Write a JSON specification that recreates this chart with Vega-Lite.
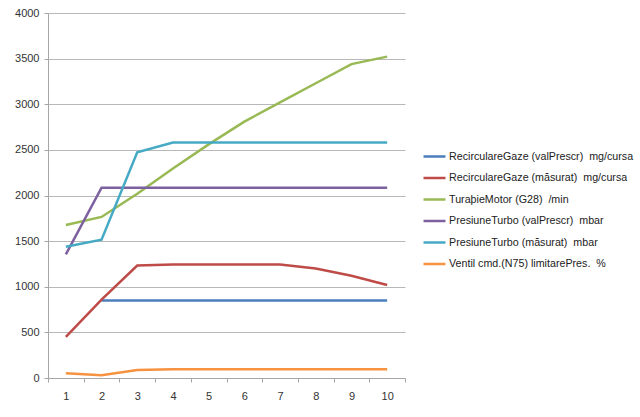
{
  "$schema": "https://vega.github.io/schema/vega-lite/v6.json",
  "width": 357,
  "height": 365,
  "autosize": {"type": "none"},
  "padding": {"left": 48, "top": 13, "right": 235, "bottom": 39},
  "background": "white",
  "config": {
    "view": {"stroke": null},
    "font": "Liberation Sans",
    "axis": {"labelFont": "Liberation Sans", "labelFontSize": 11, "labelColor": "#333333", "domainColor": "#a6a6a6", "tickColor": "#a6a6a6", "gridColor": "#b8b8b8", "tickSize": 4}
  },
  "data": {
    "values": [
      {"x": 2, "s": "RecirculareGaze (valPrescr)\u00a0 mg/cursa", "v": 850},
      {"x": 3, "s": "RecirculareGaze (valPrescr)\u00a0 mg/cursa", "v": 850},
      {"x": 4, "s": "RecirculareGaze (valPrescr)\u00a0 mg/cursa", "v": 850},
      {"x": 5, "s": "RecirculareGaze (valPrescr)\u00a0 mg/cursa", "v": 850},
      {"x": 6, "s": "RecirculareGaze (valPrescr)\u00a0 mg/cursa", "v": 850},
      {"x": 7, "s": "RecirculareGaze (valPrescr)\u00a0 mg/cursa", "v": 850},
      {"x": 8, "s": "RecirculareGaze (valPrescr)\u00a0 mg/cursa", "v": 850},
      {"x": 9, "s": "RecirculareGaze (valPrescr)\u00a0 mg/cursa", "v": 850},
      {"x": 10, "s": "RecirculareGaze (valPrescr)\u00a0 mg/cursa", "v": 850},
      {"x": 1, "s": "RecirculareGaze (măsurat)\u00a0 mg/cursa", "v": 450},
      {"x": 2, "s": "RecirculareGaze (măsurat)\u00a0 mg/cursa", "v": 860},
      {"x": 3, "s": "RecirculareGaze (măsurat)\u00a0 mg/cursa", "v": 1232},
      {"x": 4, "s": "RecirculareGaze (măsurat)\u00a0 mg/cursa", "v": 1245},
      {"x": 5, "s": "RecirculareGaze (măsurat)\u00a0 mg/cursa", "v": 1245},
      {"x": 6, "s": "RecirculareGaze (măsurat)\u00a0 mg/cursa", "v": 1245},
      {"x": 7, "s": "RecirculareGaze (măsurat)\u00a0 mg/cursa", "v": 1245},
      {"x": 8, "s": "RecirculareGaze (măsurat)\u00a0 mg/cursa", "v": 1200},
      {"x": 9, "s": "RecirculareGaze (măsurat)\u00a0 mg/cursa", "v": 1120},
      {"x": 10, "s": "RecirculareGaze (măsurat)\u00a0 mg/cursa", "v": 1020},
      {"x": 1, "s": "TuraþieMotor (G28)\u00a0 /min", "v": 1677},
      {"x": 2, "s": "TuraþieMotor (G28)\u00a0 /min", "v": 1765},
      {"x": 3, "s": "TuraþieMotor (G28)\u00a0 /min", "v": 2020},
      {"x": 4, "s": "TuraþieMotor (G28)\u00a0 /min", "v": 2295},
      {"x": 5, "s": "TuraþieMotor (G28)\u00a0 /min", "v": 2560},
      {"x": 6, "s": "TuraþieMotor (G28)\u00a0 /min", "v": 2810},
      {"x": 7, "s": "TuraþieMotor (G28)\u00a0 /min", "v": 3020},
      {"x": 8, "s": "TuraþieMotor (G28)\u00a0 /min", "v": 3230},
      {"x": 9, "s": "TuraþieMotor (G28)\u00a0 /min", "v": 3440},
      {"x": 10, "s": "TuraþieMotor (G28)\u00a0 /min", "v": 3522},
      {"x": 1, "s": "PresiuneTurbo (valPrescr)\u00a0 mbar", "v": 1355},
      {"x": 2, "s": "PresiuneTurbo (valPrescr)\u00a0 mbar", "v": 2085},
      {"x": 3, "s": "PresiuneTurbo (valPrescr)\u00a0 mbar", "v": 2085},
      {"x": 4, "s": "PresiuneTurbo (valPrescr)\u00a0 mbar", "v": 2085},
      {"x": 5, "s": "PresiuneTurbo (valPrescr)\u00a0 mbar", "v": 2085},
      {"x": 6, "s": "PresiuneTurbo (valPrescr)\u00a0 mbar", "v": 2085},
      {"x": 7, "s": "PresiuneTurbo (valPrescr)\u00a0 mbar", "v": 2085},
      {"x": 8, "s": "PresiuneTurbo (valPrescr)\u00a0 mbar", "v": 2085},
      {"x": 9, "s": "PresiuneTurbo (valPrescr)\u00a0 mbar", "v": 2085},
      {"x": 10, "s": "PresiuneTurbo (valPrescr)\u00a0 mbar", "v": 2085},
      {"x": 1, "s": "PresiuneTurbo (măsurat)\u00a0 mbar", "v": 1439},
      {"x": 2, "s": "PresiuneTurbo (măsurat)\u00a0 mbar", "v": 1516},
      {"x": 3, "s": "PresiuneTurbo (măsurat)\u00a0 mbar", "v": 2473},
      {"x": 4, "s": "PresiuneTurbo (măsurat)\u00a0 mbar", "v": 2580},
      {"x": 5, "s": "PresiuneTurbo (măsurat)\u00a0 mbar", "v": 2580},
      {"x": 6, "s": "PresiuneTurbo (măsurat)\u00a0 mbar", "v": 2580},
      {"x": 7, "s": "PresiuneTurbo (măsurat)\u00a0 mbar", "v": 2580},
      {"x": 8, "s": "PresiuneTurbo (măsurat)\u00a0 mbar", "v": 2580},
      {"x": 9, "s": "PresiuneTurbo (măsurat)\u00a0 mbar", "v": 2580},
      {"x": 10, "s": "PresiuneTurbo (măsurat)\u00a0 mbar", "v": 2580},
      {"x": 1, "s": "Ventil cmd.(N75) limitarePres.\u00a0 %", "v": 52},
      {"x": 2, "s": "Ventil cmd.(N75) limitarePres.\u00a0 %", "v": 30},
      {"x": 3, "s": "Ventil cmd.(N75) limitarePres.\u00a0 %", "v": 88},
      {"x": 4, "s": "Ventil cmd.(N75) limitarePres.\u00a0 %", "v": 95},
      {"x": 5, "s": "Ventil cmd.(N75) limitarePres.\u00a0 %", "v": 95},
      {"x": 6, "s": "Ventil cmd.(N75) limitarePres.\u00a0 %", "v": 95},
      {"x": 7, "s": "Ventil cmd.(N75) limitarePres.\u00a0 %", "v": 95},
      {"x": 8, "s": "Ventil cmd.(N75) limitarePres.\u00a0 %", "v": 95},
      {"x": 9, "s": "Ventil cmd.(N75) limitarePres.\u00a0 %", "v": 95},
      {"x": 10, "s": "Ventil cmd.(N75) limitarePres.\u00a0 %", "v": 95}
    ]
  },
  "mark": {"type": "line", "strokeWidth": 2.5},
  "encoding": {
    "x": {
      "field": "x", "type": "ordinal", "bandPosition": 0.5,
      "scale": {"type": "band", "paddingInner": 0, "paddingOuter": 0},
      "axis": {"title": null, "labelAngle": 0, "tickBand": "extent", "grid": false, "labelPadding": 8}
    },
    "y": {
      "field": "v", "type": "quantitative",
      "scale": {"domain": [0, 4000], "nice": false},
      "axis": {"title": null, "format": "d", "values": [0, 500, 1000, 1500, 2000, 2500, 3000, 3500, 4000], "labelPadding": 5}
    },
    "color": {
      "field": "s", "type": "nominal",
      "scale": {
        "domain": ["RecirculareGaze (valPrescr)\u00a0 mg/cursa", "RecirculareGaze (măsurat)\u00a0 mg/cursa", "TuraþieMotor (G28)\u00a0 /min", "PresiuneTurbo (valPrescr)\u00a0 mbar", "PresiuneTurbo (măsurat)\u00a0 mbar", "Ventil cmd.(N75) limitarePres.\u00a0 %"],
        "range": ["#4a7ebb", "#be4b48", "#98b954", "#7d60a0", "#46aac5", "#f69240"]
      },
      "legend": {
        "title": null, "orient": "none", "legendX": 374, "legendY": 131,
        "symbolType": "stroke", "symbolSize": 484, "symbolStrokeWidth": 2.5,
        "labelFontSize": 10.7, "labelColor": "#222222", "labelLimit": 300, "labelOffset": 2, "rowPadding": 3.5
      }
    }
  }
}
